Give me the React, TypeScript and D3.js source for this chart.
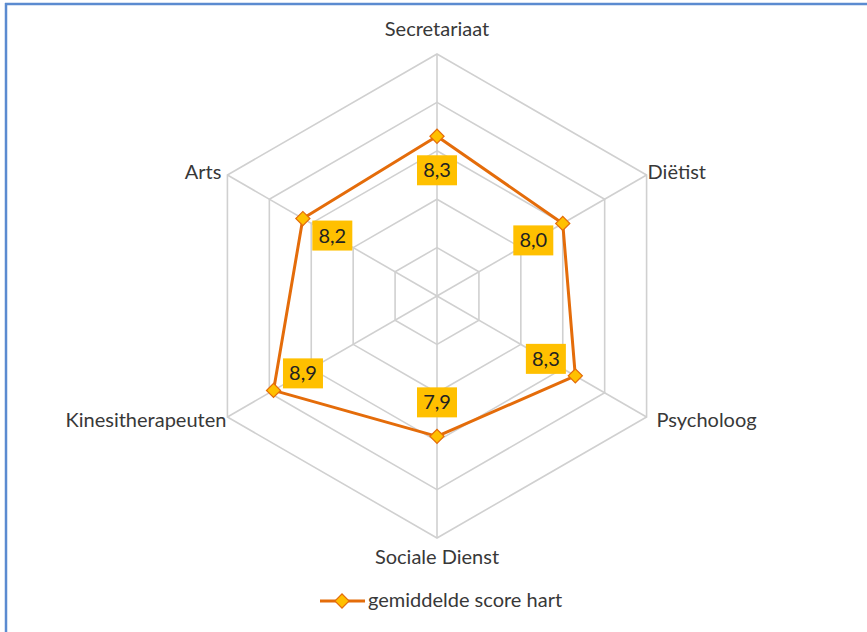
import React from 'react';
import * as d3 from 'd3';

const categories = ['Secretariaat', 'Diëtist', 'Psycholoog', 'Sociale Dienst', 'Kinesitherapeuten', 'Arts'];
const scores = [8.3, 8.0, 8.3, 7.9, 8.9, 8.2];
const scoreLabels = ['8,3', '8,0', '8,3', '7,9', '8,9', '8,2'];
const ringValues = [6, 7, 8, 9, 10];
const seriesName = 'gemiddelde score hart';

const ORANGE = '#E46C0A';
const GOLD = '#FFC000';
const GRID = '#D0D0D0';
const TEXT = '#383838';
const FONT = 'Lato, "Open Sans", sans-serif';

export default function App() {
  const width = 867;
  const height = 632;
  const cx = 437;
  const cy = 296;
  const radius = 242;

  const r = d3.scaleLinear().domain([5, 10]).range([0, radius]);
  const angle = d3.scalePoint<string>().domain(categories).range([0, 2 * Math.PI * (5 / 6)]);

  // point at a given angle/distance from center (angle 0 = top, clockwise)
  const pos = (a: number, d: number): [number, number] => [cx + d * Math.sin(a), cy - d * Math.cos(a)];

  const radarLine = d3.lineRadial<number>()
    .angle((_, i) => angle(categories[i])!)
    .radius(v => r(v))
    .curve(d3.curveLinearClosed);

  const ringPath = (v: number) =>
    d3.line().curve(d3.curveLinearClosed)(categories.map(c => pos(angle(c)!, r(v))));

  // axis label placement
  const labelAnchor = ['middle', 'start', 'start', 'middle', 'end', 'end'];
  const labelOffset: [number, number][] = [[0, -18], [1, 4], [10, 10], [0, 26], [-1, 10], [-6, 4]];

  return (
    <svg
      width={width}
      height={height}
      style={{ position: 'absolute', left: 0, top: 0, background: '#fff' }}
      fontFamily={FONT}
    >
      {/* frame */}
      <line x1={6} x2={6} y1={3} y2={height} stroke="#5B8BD0" strokeWidth={2.5} />
      <line x1={5} x2={width} y1={4} y2={4} stroke="#5B8BD0" strokeWidth={2.5} />

      {/* grid */}
      <g fill="none" stroke={GRID} strokeWidth={1.6}>
        {ringValues.map(v => <path key={v} d={ringPath(v)!} />)}
        {categories.map(c => {
          const [x, y] = pos(angle(c)!, radius);
          return <line key={c} x1={cx} y1={cy} x2={x} y2={y} />;
        })}
      </g>

      {/* series */}
      <path
        d={radarLine(scores)!}
        transform={`translate(${cx},${cy})`}
        fill="none"
        stroke={ORANGE}
        strokeWidth={3}
        strokeLinejoin="round"
      />
      {scores.map((v, i) => {
        const [x, y] = pos(angle(categories[i])!, r(v));
        return (
          <rect
            key={i}
            x={x - 5}
            y={y - 5}
            width={10}
            height={10}
            fill={GOLD}
            stroke={ORANGE}
            strokeWidth={1.2}
            transform={`rotate(45 ${x} ${y})`}
          />
        );
      })}

      {/* data labels */}
      {scores.map((v, i) => {
        const a = angle(categories[i])!;
        const [x, y] = pos(a, r(v) - 34);
        return (
          <g key={i}>
            <rect x={x - 20} y={y - 15} width={40} height={30} fill={GOLD} />
            <text x={x} y={y + 7} textAnchor="middle" fontSize={20} fill="#222">
              {scoreLabels[i]}
            </text>
          </g>
        );
      })}

      {/* axis labels */}
      {categories.map((c, i) => {
        const [x, y] = pos(angle(c)!, radius);
        return (
          <text
            key={c}
            x={x + labelOffset[i][0]}
            y={y + labelOffset[i][1]}
            textAnchor={labelAnchor[i]}
            fontSize={20}
            fill={TEXT}
          >
            {c}
          </text>
        );
      })}

      {/* legend */}
      <g>
        <line x1={320} x2={365} y1={601} y2={601} stroke={ORANGE} strokeWidth={3} />
        <rect x={337} y={596} width={10} height={10} fill={GOLD} stroke={ORANGE} strokeWidth={1.2}
          transform="rotate(45 342 601)" />
        <text x={368} y={607} fontSize={20} fill={TEXT}>{seriesName}</text>
      </g>
    </svg>
  );
}
